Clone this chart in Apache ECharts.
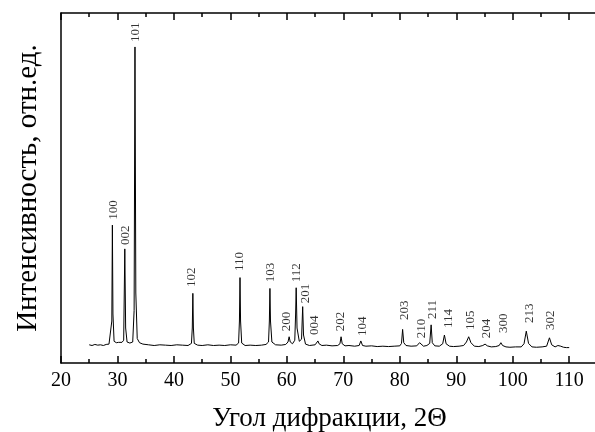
<!DOCTYPE html>
<html>
<head>
<meta charset="utf-8">
<script src="https://cdn.jsdelivr.net/npm/echarts@6/dist/echarts.min.js"></script>
<style>html,body{margin:0;padding:0;background:#fff;}#c{width:595px;height:432px;}</style>
</head>
<body>
<div id="c"></div>
<script>
// XRD pattern: [2theta, intensity (arb. units)]
const pattern = [
[25.0,5.2],[25.5,5.0],[26.0,5.3],[26.5,5.1],[27.0,5.2],[27.5,5.0],[28.0,5.3],[28.5,5.4],[28.8,5.6],
[29.0,12],[29.1,39.4],[29.2,14],[29.4,6.2],[29.8,5.8],[30.2,5.9],[30.5,6.4],[30.8,5.9],[31.1,6.5],
[31.3,32.6],[31.45,10],[31.7,6.0],[32.2,5.7],[32.7,6.0],[32.95,15],[33.1,90.3],[33.25,20],[33.5,7.0],
[33.9,5.8],[34.5,5.4],[35.5,5.2],[36.5,5.0],[37.5,5.2],[38.5,5.1],[39.5,5.0],[40.5,5.2],[41.5,5.1],
[42.5,5.0],[43.1,5.6],[43.25,10],[43.35,19.9],[43.45,10],[43.6,5.6],[44.2,5.1],[45,5.0],[46,5.2],
[47,5.0],[48,5.1],[49,5.0],[50,5.2],[51,5.1],[51.45,5.7],[51.6,12],[51.7,24.4],[51.8,12],[52.0,5.7],
[52.6,5.0],[53.5,5.1],[54.5,5.0],[55.5,5.1],[56.3,5.3],[56.75,6.0],[56.9,12],[57.0,21.3],[57.1,12],
[57.35,6.0],[58,5.2],[59,5.1],[59.8,5.3],[60.2,6.0],[60.4,7.5],[60.6,6.0],[61.0,5.5],[61.4,6.5],
[61.55,14],[61.65,21.5],[61.8,10],[62.2,6.2],[62.6,6.8],[62.8,16.1],[62.95,8],[63.3,5.4],[64,5.0],
[65,5.2],[65.3,5.6],[65.5,6.3],[65.7,5.5],[66.2,5.0],[67,5.1],[68,4.9],[69,5.0],[69.4,5.5],[69.6,7.5],
[69.8,5.5],[70.3,4.9],[71,5.0],[72,4.8],[72.8,5.0],[73.1,6.3],[73.4,5.0],[74,4.8],[75,4.9],[76,4.7],
[77,4.8],[78,4.7],[79,4.8],[80,4.9],[80.3,5.6],[80.5,9.6],[80.7,5.8],[81.1,5.0],[82,4.8],[83,4.9],
[83.3,5.3],[83.5,5.8],[83.7,5.3],[84.2,4.8],[84.8,5.0],[85.3,5.6],[85.55,10.9],[85.75,5.8],[86.2,4.9],
[87,4.8],[87.6,5.5],[87.9,8.0],[88.2,5.5],[88.8,4.8],[89.5,4.7],[90.5,4.8],[91.3,5.0],[91.8,6.0],
[92.2,7.5],[92.6,5.8],[93.2,4.8],[94,4.7],[94.7,5.0],[95.1,5.4],[95.5,4.9],[96.2,4.6],[97,4.7],
[97.6,5.0],[97.9,5.8],[98.2,5.0],[98.8,4.6],[99.5,4.5],[100.5,4.6],[101.5,4.6],[102.0,5.5],[102.4,9.1],
[102.8,5.6],[103.4,4.6],[104.2,4.5],[105.2,4.6],[106.0,4.8],[106.5,7.2],[106.9,5.2],[107.5,4.6],
[108.0,5.0],[108.2,5.3],[108.5,4.8],[109,4.5],[109.5,4.4],[110,4.4]
];

// Miller indices of the peaks and where their labels sit
const peakNames = ['100','002','101','102','110','103','200','112','201','004','202','104','203','210','211','114','105','204','300','213','302'];
const labelX = [29.34,31.42,33.14,43.12,51.68,57.13,59.96,61.70,63.30,64.98,69.59,73.44,80.76,83.90,85.78,88.62,92.46,95.43,98.37,102.98,106.77];
const labelY = [40.9,33.7,91.7,21.7,26.3,23.1,9.1,23.1,17.1,8.0,9.1,7.7,12.3,7.1,12.6,10.0,9.4,7.1,8.6,11.4,9.4];

const xTicksMajor = 10;
const xTicksMinor = 5;

const FONT = '"Liberation Serif","Times New Roman",serif';
const chart = echarts.init(document.getElementById('c'));

function xAx(pos, interval, len, labels, line) {
  return {
    type: 'value', min: 20, max: 115.1, interval: interval, position: pos,
    axisLine: { show: line, onZero: false, lineStyle: { color: '#000', width: 1.5 } },
    axisTick: { show: true, inside: true, length: len, lineStyle: { color: '#000', width: 1.5 } },
    splitLine: { show: false },
    axisLabel: labels ? {
      show: true, margin: 8, color: '#000', fontFamily: FONT, fontSize: 20,
      showMaxLabel: false,
      formatter: v => (v % 10 === 0 && v <= 110) ? String(v) : ''
    } : { show: false }
  };
}

const axes = [
  xAx('bottom', xTicksMajor, 7, true, true),
  xAx('bottom', xTicksMinor, 4, false, false),
  xAx('top', xTicksMajor, 7, false, true),
  xAx('top', xTicksMinor, 4, false, false)
];
axes[0].name = 'Угол дифракции, 2Θ';
axes[0].nameLocation = 'middle';
axes[0].nameGap = 42;
axes[0].nameTextStyle = { color: '#000', fontFamily: FONT, fontSize: 27 };

chart.setOption({
  animation: false,
  backgroundColor: '#fff',
  grid: { left: 61, top: 13, right: -3, bottom: 69, containLabel: false, outerBoundsMode: 'none' },
  xAxis: axes,
  yAxis: {
    type: 'value', min: 0, max: 100,
    axisLine: { show: true, onZero: false, lineStyle: { color: '#000', width: 1.5 } },
    axisTick: { show: false }, axisLabel: { show: false }, splitLine: { show: false },
    name: 'Интенсивность, отн.ед.', nameLocation: 'middle', nameGap: 18,
    nameTextStyle: { color: '#000', fontFamily: FONT, fontSize: 29 }
  },
  series: [
    {
      type: 'line', data: pattern, xAxisIndex: 0, yAxisIndex: 0,
      showSymbol: false, symbol: 'none', smooth: false,
      lineStyle: { color: '#000', width: 1 }
    },
    {
      type: 'scatter', xAxisIndex: 0, yAxisIndex: 0, symbolSize: 0,
      data: peakNames.map((n, i) => ({ name: n, value: [labelX[i], labelY[i]] })),
      label: {
        show: true, position: [0, 0], rotate: 90, align: 'left', verticalAlign: 'middle',
        formatter: p => p.name, color: '#000', fontFamily: FONT, fontSize: 13
      }
    }
  ]
});
</script>
</body>
</html>
